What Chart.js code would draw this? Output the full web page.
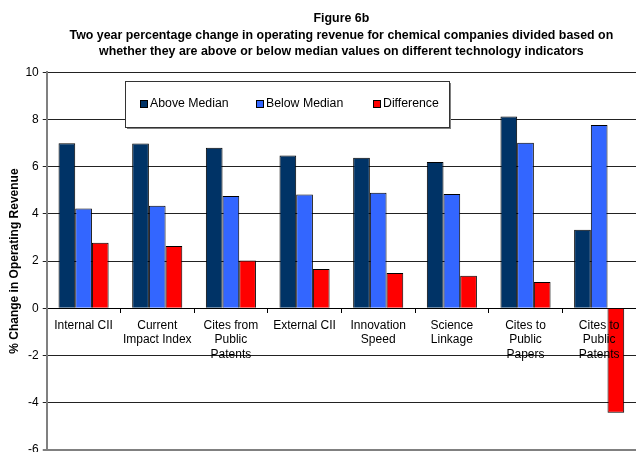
<!DOCTYPE html>
<html>
<head>
<meta charset="utf-8">
<script src="https://cdn.jsdelivr.net/npm/chart.js@4"></script>
<style>
  html, body { margin: 0; padding: 0; background: #fff; overflow: hidden; height: 452px; }
</style>
</head>
<body>
<canvas id="grafico" width="636" height="461"></canvas>
<script>
// Figure 6b - two year change in operating revenue

const categorie = [
  'Internal CII',
  ['Current', 'Impact Index'],
  ['Cites from', 'Public', 'Patents'],
  'External CII',
  ['Innovation', 'Speed'],
  ['Science', 'Linkage'],
  ['Cites to', 'Public', 'Papers'],
  ['Cites to', 'Public', 'Patents']
];

const aboveMedian = [7.0, 6.98, 6.8, 6.48, 6.38, 6.2, 8.13, 3.33];
const belowMedian = [4.23, 4.35, 4.76, 4.82, 4.9, 4.84, 7.02, 7.77];
const difference  = [2.78, 2.64, 2.02, 1.66, 1.49, 1.38, 1.11, -4.43];

const titoloRighe = [
  'Figure 6b',
  'Two year percentage change in operating revenue for chemical companies divided based on',
  'whether they are above or below median values on different technology indicators'
];
const titoloAsseY = '% Change in Operating Revenue';

const FONT = "'Liberation Sans', Arial, sans-serif";
Chart.defaults.font.family = FONT;
Chart.defaults.color = '#000';

// legenda a riquadro dentro l'area del grafico
const legendaInterna = {
  id: 'legendaInterna',
  afterDraw(chart) {
    const ctx = chart.ctx;
    const box = { x: 125, y: 81, w: 324, h: 46 };
    ctx.save();
    ctx.fillStyle = '#808080';
    ctx.fillRect(box.x + 2, box.y + 2, box.w, box.h);
    ctx.fillStyle = '#fff';
    ctx.fillRect(box.x, box.y, box.w, box.h);
    ctx.strokeStyle = '#333';
    ctx.lineWidth = 1;
    ctx.strokeRect(box.x + 0.5, box.y + 0.5, box.w, box.h);

    const xs = [140, 256, 373];
    const yc = box.y + 23;
    ctx.font = '12.3px ' + FONT;
    ctx.textBaseline = 'middle';
    ctx.textAlign = 'left';
    chart.data.datasets.forEach((ds, i) => {
      ctx.fillStyle = ds.backgroundColor;
      ctx.fillRect(xs[i], yc - 4, 7, 7);
      ctx.strokeStyle = '#000';
      ctx.strokeRect(xs[i] + 0.5, yc - 3.5, 7, 7);
      ctx.fillStyle = '#000';
      ctx.fillText(ds.label, xs[i] + 10, yc);
    });
    ctx.restore();
  }
};

new Chart(document.getElementById('grafico'), {
  type: 'bar',
  data: {
    labels: categorie,
    datasets: [
      { label: 'Above Median', data: aboveMedian, backgroundColor: '#003366', borderColor: '#000', borderWidth: 1 },
      { label: 'Below Median', data: belowMedian, backgroundColor: '#3366FF', borderColor: '#000', borderWidth: 1 },
      { label: 'Difference', data: difference, backgroundColor: '#FF0000', borderColor: '#000', borderWidth: 1 }
    ]
  },
  options: {
    responsive: false,
    animation: false,
    layout: { padding: { left: 3, right: 0, top: 11, bottom: 0 } },
    datasets: {
      bar: { categoryPercentage: 0.68, barPercentage: 1.0 }
    },
    plugins: {
      legend: { display: false },
      tooltip: { enabled: false },
      title: {
        display: true,
        fullSize: false,
        text: titoloRighe,
        color: '#000',
        font: { size: 12.4, weight: 'bold', lineHeight: 1.3 },
        padding: { top: 0, bottom: 13 }
      }
    },
    scales: {
      x: {
        position: { y: 0 },
        grid: { drawOnChartArea: false, drawTicks: true, tickLength: 4, color: '#000' },
        border: { color: '#000', width: 1 },
        ticks: { z: 1, color: '#000', font: { size: 12 }, padding: 6, maxRotation: 0, autoSkip: false }
      },
      y: {
        min: -6,
        max: 10,
        ticks: { stepSize: 2, color: '#000', font: { size: 12 }, padding: 4 },
        grid: {
          color: c => c.tick.value === -6 ? '#808080' : '#222',
          lineWidth: c => c.tick.value === -6 ? 2 : 1,
          tickLength: 4
        },
        border: { color: '#808080', width: 2 },
        title: {
          display: true,
          text: titoloAsseY,
          color: '#000',
          font: { size: 12, weight: 'bold' },
          padding: { top: 4, bottom: 0 }
        }
      }
    }
  },
  plugins: [legendaInterna]
});
</script>
</body>
</html>
